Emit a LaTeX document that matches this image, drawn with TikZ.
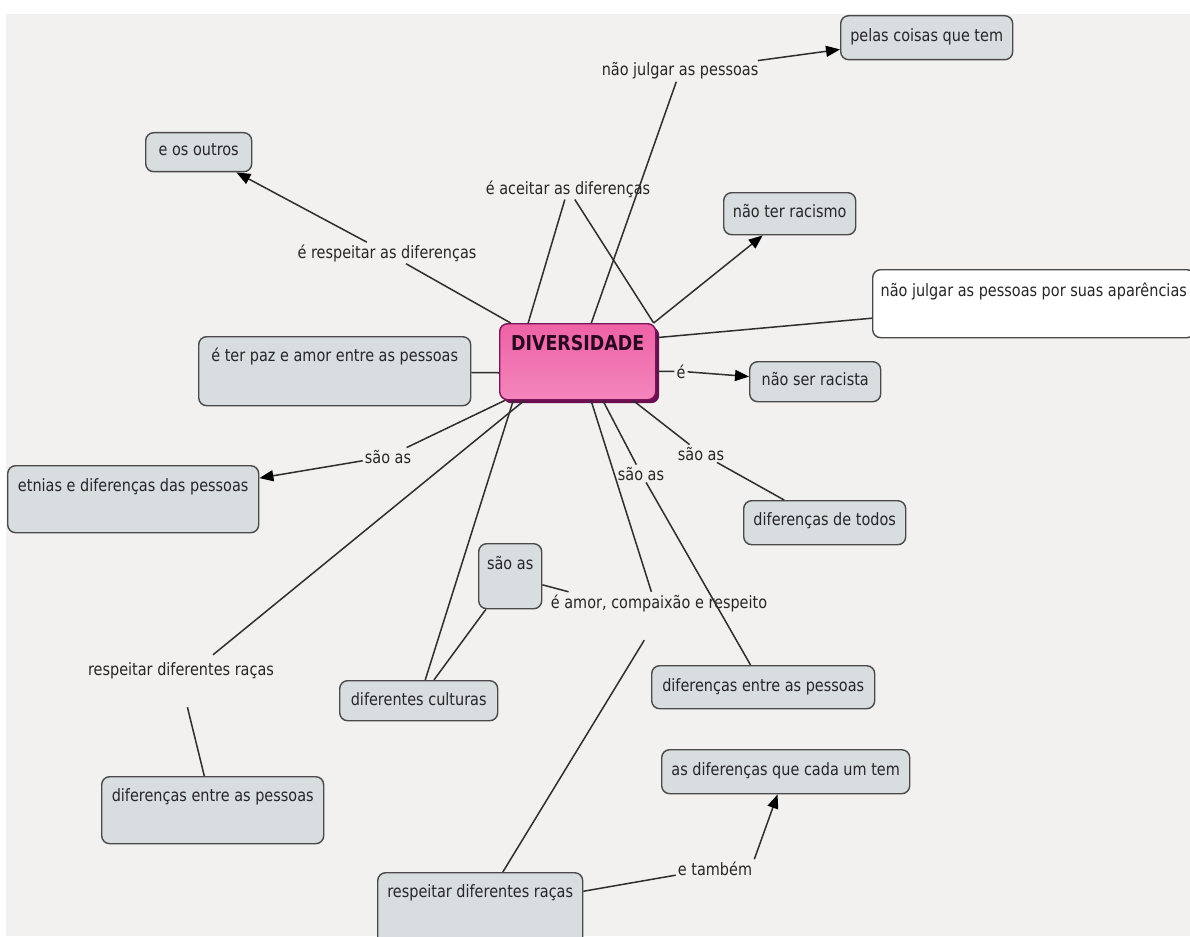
\documentclass[tikz,border=0pt]{standalone}
\usepackage{fontspec}
\setmainfont{DejaVu Sans}[FakeStretch=0.85]
\usetikzlibrary{arrows.meta,shadows}
\definecolor{bgc}{HTML}{F3F1EF}
\definecolor{boxc}{HTML}{D8DDE0}
\definecolor{bordc}{HTML}{4A4A4A}
\definecolor{linec}{HTML}{2E2E2E}
\definecolor{txtc}{HTML}{262626}
\definecolor{pinktop}{HTML}{EE62A6}
\definecolor{pinkbot}{HTML}{F386BC}
\definecolor{divbord}{HTML}{7B1456}
\definecolor{divsh}{HTML}{6A0F50}
\definecolor{divtxt}{HTML}{2A0820}
\tikzset{
  every node/.style={font=\fontsize{17}{19}\selectfont, text=txtc},
  concept/.style={draw=bordc, fill=boxc, rounded corners=8pt, line width=1.4pt,
    inner xsep=0pt, inner ysep=0pt, anchor=north west, align=center},
  lab/.style={inner sep=2pt, anchor=base},
  link/.style={draw=linec, line width=1.5pt},
  arr/.style={link, -{Triangle[length=14pt,width=11pt,color=black]}}
}
\begin{document}
\begin{tikzpicture}[x=1pt,y=-1pt]
\useasboundingbox (0,0) rectangle (1190,936);
\fill[white] (0,0) rectangle (1190,936);
\fill[bgc] (6,14) rectangle (1190,936);

% concepts
\node[concept, minimum width=172pt, text height=26pt, text depth=18pt] (pelas) at (840,15) {pelas coisas que tem};
\node[concept, minimum width=106pt, text height=23pt, text depth=16pt] (outros) at (145,132) {e os outros};
\node[concept, minimum width=132pt, text height=25pt, text depth=17pt] (racismo) at (723,192) {não ter racismo};
\node[concept, fill=white, minimum width=322pt, text height=27pt, text depth=41pt] (apar) at (872,269) {não julgar as pessoas por suas aparências};
\node[concept, draw=divbord, top color=pinktop, bottom color=pinkbot,
  drop shadow={shadow xshift=3.5pt, shadow yshift=-3.5pt, fill=divsh, opacity=1},
  font=\fontsize{20.5}{22}\selectfont\bfseries, text=divtxt,
  minimum width=156pt, text height=27pt, text depth=49pt] (div) at (499,323) {DIVERSIDADE};
\node[concept, minimum width=272pt, text height=25pt, text depth=44pt] (paz) at (198,336) {é ter paz e amor entre as pessoas};
\node[concept, minimum width=131pt, text height=24pt, text depth=16pt] (racista) at (749,361) {não ser racista};
\node[concept, minimum width=251pt, text height=26pt, text depth=41pt] (etnias) at (7,465) {etnias e diferenças das pessoas};
\node[concept, minimum width=162pt, text height=25pt, text depth=19pt] (todos) at (743,500) {diferenças de todos};
\node[concept, minimum width=63pt, text height=26pt, text depth=39pt] (saoas) at (478,543) {são as};
\node[concept, minimum width=158pt, text height=25pt, text depth=15pt] (culturas) at (339,680) {diferentes culturas};
\node[concept, minimum width=223pt, text height=26pt, text depth=17pt] (difR) at (651,665) {diferenças entre as pessoas};
\node[concept, minimum width=248pt, text height=26pt, text depth=18pt] (cadaum) at (661,749) {as diferenças que cada um tem};
\node[concept, minimum width=222pt, text height=25pt, text depth=42pt] (difL) at (101,776) {diferenças entre as pessoas};
\node[concept, minimum width=205pt, text height=25pt, text depth=48pt] (resp) at (377,872) {respeitar diferentes raças};

% linking phrases
\node[lab] (lj) at (680,76) {não julgar as pessoas};
\node[lab] (la) at (568,194) {é aceitar as diferenças};
\node[lab] (lr) at (387,258) {é respeitar as diferenças};
\node[lab] (le) at (681,378) {é};
\node[lab] (ls1) at (388,463) {são as};
\node[lab] (ls2) at (641,480) {são as};
\node[lab] (ls3) at (701,460) {são as};
\node[lab, text height=14pt, text depth=30pt] (lam) at (659,608) {é amor, compaixão e respeito};
\node[lab, text height=18pt, text depth=30pt] (lrd) at (181,675) {respeitar diferentes raças};
\node[lab] (lt) at (715,875) {e também};

% connectors
\draw[link] (div) -- (lj);
\draw[arr] (lj) -- (pelas);
\draw[link] (div.142) -- (la);
\draw[link] (div.27.5) -- (la);
\draw[link] (div.150) -- (lr);
\draw[arr] (lr) -- (outros);
\draw[arr] (div.27) -- (racismo);
\draw[link] (div.17) -- (apar);
\draw[link] (div.188) -- (paz);
\draw[link] (div.353) -- (le);
\draw[arr] (le) -- (racista);
\draw[link] (div.208) -- (ls1);
\draw[arr] (ls1) -- (etnias);
\draw[link] (div.216) -- (lrd);
\draw[link] (lrd) -- (difL);
\draw[link] (div.211.5) -- (culturas);
\draw[link] (saoas) -- (culturas);
\draw[link] (saoas) -- (lam);
\draw[link] (div.289) -- (lam);
\draw[link] (div.303) -- (ls2);
\draw[link] (ls2) -- (difR);
\draw[link] (div.325) -- (ls3);
\draw[link] (ls3) -- (todos);
\draw[link] (lam) -- (resp);
\draw[link] (resp) -- (lt);
\draw[arr] (lt.north east) -- (cadaum);
\end{tikzpicture}
\end{document}
